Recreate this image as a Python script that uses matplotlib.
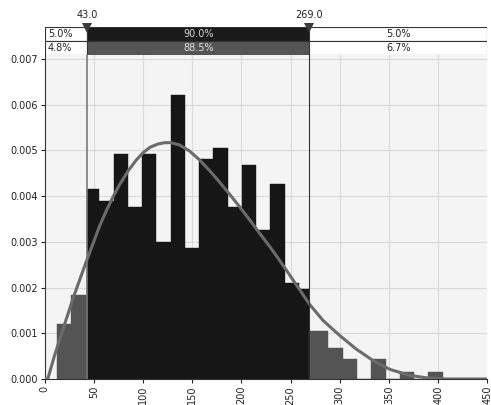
import matplotlib
matplotlib.use("Agg")
import matplotlib.pyplot as plt
from matplotlib.patches import Rectangle

# limites del intervalo marcado
lim_inf = 43.0
lim_sup = 269.0

# histograma: bordes de las barras y densidades
bordes_izq = [12.5, 27.0, 43.0]
alturas_izq = [0.00120, 0.00184]

bordes_centro = [43.0, 55.5, 70.0, 84.5, 99.0, 113.5, 128.0, 142.5, 157.0,
                 171.5, 186.0, 200.5, 215.0, 229.5, 244.0, 258.5, 269.0]
alturas_centro = [0.00415, 0.00390, 0.00492, 0.00377, 0.00492, 0.00300,
                  0.00621, 0.00287, 0.00481, 0.00505, 0.00377, 0.00468,
                  0.00325, 0.00427, 0.00211, 0.00196]

bordes_der = [269.0, 288.5, 303.0, 317.5, 332.0, 346.5, 361.0, 375.5, 390.0, 404.5]
alturas_der = [0.00106, 0.00067, 0.00043, 0.0, 0.00043, 0.0, 0.00016, 0.0, 0.00016]

# curva ajustada
curva_x = [0, 3, 10, 19, 29, 41, 49, 56, 63, 70, 76, 85, 93, 100, 107, 115, 122,
           128, 137, 147, 157, 168, 178, 188, 198, 208, 218, 229, 237, 246,
           258, 269, 283, 300, 317, 334, 351, 371, 390, 410, 430, 450]
curva_y = [0.0, 0.0, 0.00052, 0.00112, 0.00178, 0.00250, 0.00296, 0.00336,
           0.00370, 0.00401, 0.00425, 0.00456, 0.00479, 0.00495, 0.00507,
           0.00514, 0.00517, 0.00517, 0.00512, 0.00499, 0.00480, 0.00455,
           0.00430, 0.00404, 0.00377, 0.00349, 0.00320, 0.00289, 0.00265,
           0.00237, 0.00199, 0.00164, 0.00128, 0.00095, 0.00065, 0.00040,
           0.00021, 0.00008, 0.00002, 0.0, 0.0, 0.0]

# porcentajes de la tabla superior
pct_modelo = ["5.0%", "90.0%", "5.0%"]
pct_ajuste = ["4.8%", "88.5%", "6.7%"]

xticks = [0, 50, 100, 150, 200, 250, 300, 350, 400, 450]
yticks = [0.000, 0.001, 0.002, 0.003, 0.004, 0.005, 0.006, 0.007]

plt.rcParams["font.family"] = ["DejaVu Sans"]
plt.rcParams["font.size"] = 7

W, H = 491, 405
fig = plt.figure(figsize=(W / 100, H / 100), dpi=100)
fig.patch.set_facecolor("white")

x0, x1 = 44.8, 487.3
y_base, y_top = 379, 55
ax = fig.add_axes([x0 / W, 1 - y_base / H, (x1 - x0) / W, (y_base - y_top) / H])
ax.set_facecolor("#f4f4f4")
ax.set_xlim(0, 450)
ax.set_ylim(0, 0.007 * (y_base - y_top) / (y_base - 59))

ax.set_xticks(xticks)
ax.set_xticklabels([str(t) for t in xticks], rotation=90)
ax.set_yticks(yticks)
ax.set_yticklabels([f"{t:.3f}" for t in yticks])
ax.grid(True, color="#dadada", linewidth=0.8)
ax.set_axisbelow(True)
ax.tick_params(length=3, width=0.8, pad=2, colors="#222222")
for lado in ["top", "right"]:
    ax.spines[lado].set_visible(False)
for lado in ["left", "bottom"]:
    ax.spines[lado].set_color("#333333")
    ax.spines[lado].set_linewidth(0.8)

def barras(bordes, alturas, color):
    anchos = [bordes[i + 1] - bordes[i] for i in range(len(alturas))]
    ax.bar(bordes[:-1], alturas, width=anchos, align="edge", color=color,
           edgecolor=color, linewidth=0.3, zorder=2)

barras(bordes_izq, alturas_izq, "#545454")
barras(bordes_centro, alturas_centro, "#161616")
barras(bordes_der, alturas_der, "#545454")

ax.plot(curva_x, curva_y, color="#6b6b6b", linewidth=2.2, zorder=3,
        solid_capstyle="round", solid_joinstyle="round")

ax.axvline(lim_inf, color="#7a7a7a", linewidth=1.2, zorder=4)
ax.axvline(lim_sup, color="#333333", linewidth=0.8, zorder=4)

# tabla superior con los porcentajes
tab = fig.add_axes([x0 / W, 1 - y_top / H, (x1 - x0) / W, 28 / H])
tab.set_xlim(0, 450)
tab.set_ylim(0, 2)
tab.axis("off")

celdas = [(0, lim_inf), (lim_inf, lim_sup), (lim_sup, 450)]
colores_fila = [["white", "#1a1a1a", "white"], ["white", "#555555", "white"]]
colores_txt = [["#222222", "#d8d8d8", "#222222"], ["#222222", "#e0e0e0", "#222222"]]
for fila, textos in enumerate([pct_modelo, pct_ajuste]):
    y = 1 - fila
    for j, (a, b) in enumerate(celdas):
        tab.add_patch(Rectangle((a, y), b - a, 1, facecolor=colores_fila[fila][j],
                                edgecolor="#333333", linewidth=0.8))
        if j == 0:
            tab.text(a + 3, y + 0.5, textos[j], ha="left", va="center",
                     color=colores_txt[fila][j])
        else:
            tab.text((a + b) / 2, y + 0.5, textos[j], ha="center", va="center",
                     color=colores_txt[fila][j])

for v in [lim_inf, lim_sup]:
    tab.plot([v], [1.93], marker="v", markersize=7, color="#3c3c3c",
             markeredgewidth=0, clip_on=False, zorder=5)
    tab.text(v, 2.5, f"{v:.1f}", ha="center", va="bottom", color="#222222")

fig.savefig("out.png", dpi=100)
